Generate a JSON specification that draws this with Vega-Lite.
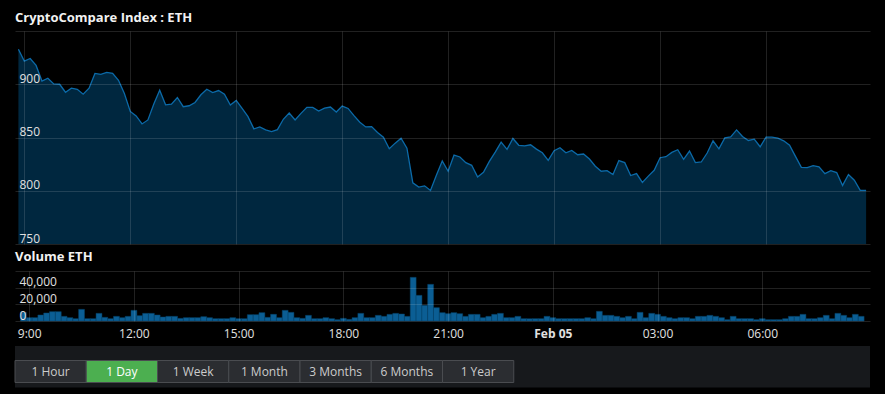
{
  "$schema": "https://vega.github.io/schema/vega-lite/v6.json",
  "background": "#000000",
  "padding": {"left": 14, "right": 16, "top": 11, "bottom": 6.5},
  "config": {
    "font": "Open Sans",
    "view": {"stroke": null},
    "title": {"font": "Open Sans", "fontSize": 13, "fontWeight": "bold", "color": "#f2f2f2", "anchor": "start", "frame": "group"},
    "axis": {"labelFont": "Open Sans", "labelFontSize": 12, "labelColor": "#e0e0e0", "domain": false, "ticks": false, "gridColor": "#ffffff", "gridOpacity": 0.13, "gridWidth": 1}
  },
  "datasets": {
    "eth": [
      {"t": "2018-02-04T08:50:00Z", "p": 932.9, "v": 10400},
      {"t": "2018-02-04T09:00:00Z", "p": 921.7, "v": 4000},
      {"t": "2018-02-04T09:10:00Z", "p": 924.2, "v": 4000},
      {"t": "2018-02-04T09:20:00Z", "p": 917.7, "v": 7200},
      {"t": "2018-02-04T09:30:00Z", "p": 903.0, "v": 9600},
      {"t": "2018-02-04T09:40:00Z", "p": 905.6, "v": 11200},
      {"t": "2018-02-04T09:50:00Z", "p": 900.3, "v": 11200},
      {"t": "2018-02-04T10:00:00Z", "p": 900.0, "v": 5600},
      {"t": "2018-02-04T10:10:00Z", "p": 892.5, "v": 4000},
      {"t": "2018-02-04T10:20:00Z", "p": 896.3, "v": 2800},
      {"t": "2018-02-04T10:30:00Z", "p": 895.3, "v": 14000},
      {"t": "2018-02-04T10:40:00Z", "p": 890.7, "v": 2800},
      {"t": "2018-02-04T10:50:00Z", "p": 896.3, "v": 2800},
      {"t": "2018-02-04T11:00:00Z", "p": 910.2, "v": 9200},
      {"t": "2018-02-04T11:10:00Z", "p": 909.3, "v": 4400},
      {"t": "2018-02-04T11:20:00Z", "p": 911.2, "v": 2800},
      {"t": "2018-02-04T11:30:00Z", "p": 910.2, "v": 5600},
      {"t": "2018-02-04T11:40:00Z", "p": 903.7, "v": 4000},
      {"t": "2018-02-04T11:50:00Z", "p": 891.3, "v": 5600},
      {"t": "2018-02-04T12:00:00Z", "p": 874.5, "v": 12800},
      {"t": "2018-02-04T12:10:00Z", "p": 870.2, "v": 6400},
      {"t": "2018-02-04T12:20:00Z", "p": 862.7, "v": 9200},
      {"t": "2018-02-04T12:30:00Z", "p": 866.5, "v": 9200},
      {"t": "2018-02-04T12:40:00Z", "p": 881.4, "v": 7200},
      {"t": "2018-02-04T12:50:00Z", "p": 894.4, "v": 4800},
      {"t": "2018-02-04T13:00:00Z", "p": 880.7, "v": 5600},
      {"t": "2018-02-04T13:10:00Z", "p": 881.4, "v": 5600},
      {"t": "2018-02-04T13:20:00Z", "p": 887.6, "v": 3200},
      {"t": "2018-02-04T13:30:00Z", "p": 878.9, "v": 4000},
      {"t": "2018-02-04T13:40:00Z", "p": 879.8, "v": 4000},
      {"t": "2018-02-04T13:50:00Z", "p": 882.9, "v": 4000},
      {"t": "2018-02-04T14:00:00Z", "p": 890.1, "v": 5200},
      {"t": "2018-02-04T14:10:00Z", "p": 895.3, "v": 4000},
      {"t": "2018-02-04T14:20:00Z", "p": 892.2, "v": 2800},
      {"t": "2018-02-04T14:30:00Z", "p": 894.1, "v": 2800},
      {"t": "2018-02-04T14:40:00Z", "p": 890.7, "v": 2800},
      {"t": "2018-02-04T14:50:00Z", "p": 880.4, "v": 4000},
      {"t": "2018-02-04T15:00:00Z", "p": 884.8, "v": 2800},
      {"t": "2018-02-04T15:10:00Z", "p": 877.3, "v": 2800},
      {"t": "2018-02-04T15:20:00Z", "p": 869.6, "v": 7600},
      {"t": "2018-02-04T15:30:00Z", "p": 858.1, "v": 7600},
      {"t": "2018-02-04T15:40:00Z", "p": 859.9, "v": 10000},
      {"t": "2018-02-04T15:50:00Z", "p": 857.1, "v": 4400},
      {"t": "2018-02-04T16:00:00Z", "p": 855.6, "v": 8000},
      {"t": "2018-02-04T16:10:00Z", "p": 857.4, "v": 4000},
      {"t": "2018-02-04T16:20:00Z", "p": 867.1, "v": 12800},
      {"t": "2018-02-04T16:30:00Z", "p": 873.0, "v": 10400},
      {"t": "2018-02-04T16:40:00Z", "p": 866.5, "v": 4000},
      {"t": "2018-02-04T16:50:00Z", "p": 872.7, "v": 3200},
      {"t": "2018-02-04T17:00:00Z", "p": 878.3, "v": 6800},
      {"t": "2018-02-04T17:10:00Z", "p": 878.3, "v": 2800},
      {"t": "2018-02-04T17:20:00Z", "p": 874.8, "v": 2800},
      {"t": "2018-02-04T17:30:00Z", "p": 877.6, "v": 4000},
      {"t": "2018-02-04T17:40:00Z", "p": 878.6, "v": 2800},
      {"t": "2018-02-04T17:50:00Z", "p": 873.9, "v": 1600},
      {"t": "2018-02-04T18:00:00Z", "p": 879.5, "v": 3200},
      {"t": "2018-02-04T18:10:00Z", "p": 877.3, "v": 2000},
      {"t": "2018-02-04T18:20:00Z", "p": 870.5, "v": 4000},
      {"t": "2018-02-04T18:30:00Z", "p": 864.3, "v": 9200},
      {"t": "2018-02-04T18:40:00Z", "p": 859.9, "v": 4000},
      {"t": "2018-02-04T18:50:00Z", "p": 860.2, "v": 4000},
      {"t": "2018-02-04T19:00:00Z", "p": 854.7, "v": 6800},
      {"t": "2018-02-04T19:10:00Z", "p": 850.3, "v": 5600},
      {"t": "2018-02-04T19:20:00Z", "p": 839.4, "v": 8000},
      {"t": "2018-02-04T19:30:00Z", "p": 844.7, "v": 9200},
      {"t": "2018-02-04T19:40:00Z", "p": 849.4, "v": 8400},
      {"t": "2018-02-04T19:50:00Z", "p": 840.0, "v": 5600},
      {"t": "2018-02-04T20:00:00Z", "p": 807.4, "v": 52400},
      {"t": "2018-02-04T20:10:00Z", "p": 803.4, "v": 30800},
      {"t": "2018-02-04T20:20:00Z", "p": 804.6, "v": 18800},
      {"t": "2018-02-04T20:30:00Z", "p": 800.3, "v": 44000},
      {"t": "2018-02-04T20:40:00Z", "p": 814.6, "v": 16000},
      {"t": "2018-02-04T20:50:00Z", "p": 827.9, "v": 10000},
      {"t": "2018-02-04T21:00:00Z", "p": 818.3, "v": 8800},
      {"t": "2018-02-04T21:10:00Z", "p": 833.5, "v": 10000},
      {"t": "2018-02-04T21:20:00Z", "p": 831.7, "v": 8800},
      {"t": "2018-02-04T21:30:00Z", "p": 826.4, "v": 5600},
      {"t": "2018-02-04T21:40:00Z", "p": 823.9, "v": 8000},
      {"t": "2018-02-04T21:50:00Z", "p": 813.0, "v": 8000},
      {"t": "2018-02-04T22:00:00Z", "p": 817.4, "v": 4000},
      {"t": "2018-02-04T22:10:00Z", "p": 827.6, "v": 5600},
      {"t": "2018-02-04T22:20:00Z", "p": 836.3, "v": 8000},
      {"t": "2018-02-04T22:30:00Z", "p": 845.6, "v": 9200},
      {"t": "2018-02-04T22:40:00Z", "p": 838.8, "v": 4000},
      {"t": "2018-02-04T22:50:00Z", "p": 849.1, "v": 4000},
      {"t": "2018-02-04T23:00:00Z", "p": 842.7, "v": 5600},
      {"t": "2018-02-04T23:10:00Z", "p": 842.2, "v": 2800},
      {"t": "2018-02-04T23:20:00Z", "p": 843.2, "v": 2800},
      {"t": "2018-02-04T23:30:00Z", "p": 839.1, "v": 2800},
      {"t": "2018-02-04T23:40:00Z", "p": 835.7, "v": 2800},
      {"t": "2018-02-04T23:50:00Z", "p": 828.6, "v": 5600},
      {"t": "2018-02-05T00:00:00Z", "p": 837.6, "v": 4000},
      {"t": "2018-02-05T00:10:00Z", "p": 840.4, "v": 2800},
      {"t": "2018-02-05T00:20:00Z", "p": 835.7, "v": 2800},
      {"t": "2018-02-05T00:30:00Z", "p": 837.9, "v": 2800},
      {"t": "2018-02-05T00:40:00Z", "p": 833.8, "v": 2800},
      {"t": "2018-02-05T00:50:00Z", "p": 834.5, "v": 2800},
      {"t": "2018-02-05T01:00:00Z", "p": 829.8, "v": 4000},
      {"t": "2018-02-05T01:10:00Z", "p": 823.0, "v": 2800},
      {"t": "2018-02-05T01:20:00Z", "p": 818.3, "v": 11600},
      {"t": "2018-02-05T01:30:00Z", "p": 818.9, "v": 6800},
      {"t": "2018-02-05T01:40:00Z", "p": 815.2, "v": 6800},
      {"t": "2018-02-05T01:50:00Z", "p": 828.3, "v": 5600},
      {"t": "2018-02-05T02:00:00Z", "p": 826.4, "v": 4000},
      {"t": "2018-02-05T02:10:00Z", "p": 814.3, "v": 5600},
      {"t": "2018-02-05T02:20:00Z", "p": 816.1, "v": 2800},
      {"t": "2018-02-05T02:30:00Z", "p": 807.8, "v": 10400},
      {"t": "2018-02-05T02:40:00Z", "p": 813.7, "v": 4000},
      {"t": "2018-02-05T02:50:00Z", "p": 819.2, "v": 9200},
      {"t": "2018-02-05T03:00:00Z", "p": 831.0, "v": 8000},
      {"t": "2018-02-05T03:10:00Z", "p": 832.0, "v": 5600},
      {"t": "2018-02-05T03:20:00Z", "p": 836.0, "v": 4000},
      {"t": "2018-02-05T03:30:00Z", "p": 838.5, "v": 2800},
      {"t": "2018-02-05T03:40:00Z", "p": 829.5, "v": 4000},
      {"t": "2018-02-05T03:50:00Z", "p": 837.3, "v": 4000},
      {"t": "2018-02-05T04:00:00Z", "p": 826.4, "v": 2800},
      {"t": "2018-02-05T04:10:00Z", "p": 827.0, "v": 5600},
      {"t": "2018-02-05T04:20:00Z", "p": 835.4, "v": 5600},
      {"t": "2018-02-05T04:30:00Z", "p": 846.9, "v": 6800},
      {"t": "2018-02-05T04:40:00Z", "p": 839.4, "v": 5600},
      {"t": "2018-02-05T04:50:00Z", "p": 849.7, "v": 4000},
      {"t": "2018-02-05T05:00:00Z", "p": 850.6, "v": 1600},
      {"t": "2018-02-05T05:10:00Z", "p": 857.1, "v": 5600},
      {"t": "2018-02-05T05:20:00Z", "p": 850.9, "v": 2800},
      {"t": "2018-02-05T05:30:00Z", "p": 847.2, "v": 2800},
      {"t": "2018-02-05T05:40:00Z", "p": 848.4, "v": 2800},
      {"t": "2018-02-05T05:50:00Z", "p": 841.3, "v": 1600},
      {"t": "2018-02-05T06:00:00Z", "p": 850.3, "v": 2800},
      {"t": "2018-02-05T06:10:00Z", "p": 850.3, "v": 1600},
      {"t": "2018-02-05T06:20:00Z", "p": 849.4, "v": 1600},
      {"t": "2018-02-05T06:30:00Z", "p": 846.9, "v": 1600},
      {"t": "2018-02-05T06:40:00Z", "p": 842.8, "v": 2800},
      {"t": "2018-02-05T06:50:00Z", "p": 832.3, "v": 5600},
      {"t": "2018-02-05T07:00:00Z", "p": 822.0, "v": 5600},
      {"t": "2018-02-05T07:10:00Z", "p": 821.7, "v": 8000},
      {"t": "2018-02-05T07:20:00Z", "p": 823.6, "v": 2800},
      {"t": "2018-02-05T07:30:00Z", "p": 822.4, "v": 2800},
      {"t": "2018-02-05T07:40:00Z", "p": 816.1, "v": 4000},
      {"t": "2018-02-05T07:50:00Z", "p": 818.9, "v": 6800},
      {"t": "2018-02-05T08:00:00Z", "p": 817.1, "v": 2800},
      {"t": "2018-02-05T08:10:00Z", "p": 805.0, "v": 9200},
      {"t": "2018-02-05T08:20:00Z", "p": 815.2, "v": 6800},
      {"t": "2018-02-05T08:30:00Z", "p": 809.9, "v": 4000},
      {"t": "2018-02-05T08:40:00Z", "p": 800.3, "v": 8000},
      {"t": "2018-02-05T08:50:00Z", "p": 800.3, "v": 5600}
    ],
    "ranges": [
      {"label": "1 Hour", "group": "range"},
      {"label": "1 Day", "group": "range"},
      {"label": "1 Week", "group": "range"},
      {"label": "1 Month", "group": "range"},
      {"label": "3 Months", "group": "range"},
      {"label": "6 Months", "group": "range"},
      {"label": "1 Year", "group": "range"}
    ]
  },
  "spacing": 7,
  "resolve": {"scale": {"x": "independent", "y": "independent"}},
  "vconcat": [
    {
      "title": {"text": "CryptoCompare Index : ETH", "offset": 6.5},
      "width": 855,
      "height": 213,
      "data": {"name": "eth"},
      "mark": {"type": "area", "fill": "#00273f", "opacity": 1, "line": {"stroke": "#0b6aa8", "strokeWidth": 1.3}},
      "encoding": {
        "x": {
          "field": "t", "type": "temporal",
          "scale": {"type": "utc", "nice": false, "domain": [
            {"year": 2018, "month": 2, "date": 4, "hours": 8, "minutes": 44, "seconds": 12, "utc": true},
            {"year": 2018, "month": 2, "date": 5, "hours": 8, "minutes": 56, "seconds": 37, "utc": true}
          ]},
          "axis": {"title": null, "labels": false, "grid": true, "zindex": 1, "values": [
            {"year": 2018, "month": 2, "date": 4, "hours": 9, "utc": true},
            {"year": 2018, "month": 2, "date": 4, "hours": 12, "utc": true},
            {"year": 2018, "month": 2, "date": 4, "hours": 15, "utc": true},
            {"year": 2018, "month": 2, "date": 4, "hours": 18, "utc": true},
            {"year": 2018, "month": 2, "date": 4, "hours": 21, "utc": true},
            {"year": 2018, "month": 2, "date": 5, "hours": 0, "utc": true},
            {"year": 2018, "month": 2, "date": 5, "hours": 3, "utc": true},
            {"year": 2018, "month": 2, "date": 5, "hours": 6, "utc": true}
          ]}
        },
        "y": {
          "field": "p", "type": "quantitative",
          "scale": {"domain": [750, 950], "zero": false, "nice": false},
          "axis": {"title": null, "zindex": 1, "values": [750, 800, 850, 900, 950], "labelAlign": "left", "labelPadding": -4, "labelBaseline": "alphabetic", "labelOffset": -2, "labelExpr": "datum.value == 950 ? '' : datum.label"}
        },
        "y2": {"datum": 750}
      }
    },
    {
      "title": {"text": "Volume ETH", "offset": 7},
      "width": 855,
      "height": 50,
      "data": {"name": "eth"},
      "mark": {"type": "bar", "width": 5.89, "fill": "#0b5e94", "stroke": "#074268", "strokeWidth": 0.5},
      "encoding": {
        "x": {
          "field": "t", "type": "temporal",
          "scale": {"type": "utc", "nice": false, "domain": [
            {"year": 2018, "month": 2, "date": 4, "hours": 8, "minutes": 44, "seconds": 12, "utc": true},
            {"year": 2018, "month": 2, "date": 5, "hours": 8, "minutes": 56, "seconds": 37, "utc": true}
          ]},
          "axis": {
            "title": null, "grid": true, "zindex": 1, "values": [
              {"year": 2018, "month": 2, "date": 4, "hours": 9, "utc": true},
              {"year": 2018, "month": 2, "date": 4, "hours": 12, "utc": true},
              {"year": 2018, "month": 2, "date": 4, "hours": 15, "utc": true},
              {"year": 2018, "month": 2, "date": 4, "hours": 18, "utc": true},
              {"year": 2018, "month": 2, "date": 4, "hours": 21, "utc": true},
              {"year": 2018, "month": 2, "date": 5, "hours": 0, "utc": true},
              {"year": 2018, "month": 2, "date": 5, "hours": 3, "utc": true},
              {"year": 2018, "month": 2, "date": 5, "hours": 6, "utc": true}
            ],
            "labelPadding": 7, "labelBaseline": "top", "labelFlush": false, "labelOverlap": false,
            "labelExpr": "utchours(datum.value) == 0 ? 'Feb 05' : (utchours(datum.value) == 9 ? '9:00' : utcFormat(datum.value, '%H:%M'))",
            "labelFontWeight": {"condition": {"test": "utchours(datum.value) == 0", "value": "bold"}, "value": "normal"}
          }
        },
        "y": {
          "field": "v", "type": "quantitative",
          "scale": {"domain": [0, 60000], "nice": false},
          "axis": {"title": null, "zindex": 1, "values": [0, 20000, 40000, 60000], "labelAlign": "left", "labelPadding": -4, "labelBaseline": "alphabetic", "labelOffset": -2, "labelExpr": "datum.value == 60000 ? '' : format(datum.value, ',')"}
        }
      }
    },
    {
      "width": 855,
      "height": 41.5,
      "data": {"name": "ranges"},
      "view": {"fill": "#17191c"},
      "encoding": {
        "x": {"field": "label", "type": "nominal", "sort": null, "axis": null, "scale": {"domain": ["1 Hour", "1 Day", "1 Week", "1 Month", "3 Months", "6 Months", "1 Year", "_a", "_b", "_c", "_d", "_e"], "paddingInner": 0, "paddingOuter": 0}},
        "y": {"field": "group", "type": "nominal", "axis": null, "scale": {"paddingInner": 0, "paddingOuter": 0.443, "align": 0.744}}
      },
      "layer": [
        {
          "mark": {"type": "bar", "stroke": "#4a4c50", "strokeWidth": 1},
          "encoding": {"color": {"condition": {"test": "datum.label === '1 Day'", "value": "#4caf50"}, "value": "#2b2d31"}}
        },
        {
          "mark": {"type": "text", "font": "Open Sans", "fontSize": 12},
          "encoding": {
            "text": {"field": "label"},
            "color": {"condition": {"test": "datum.label === '1 Day'", "value": "#ffffff"}, "value": "#cccccc"}
          }
        }
      ]
    }
  ]
}
